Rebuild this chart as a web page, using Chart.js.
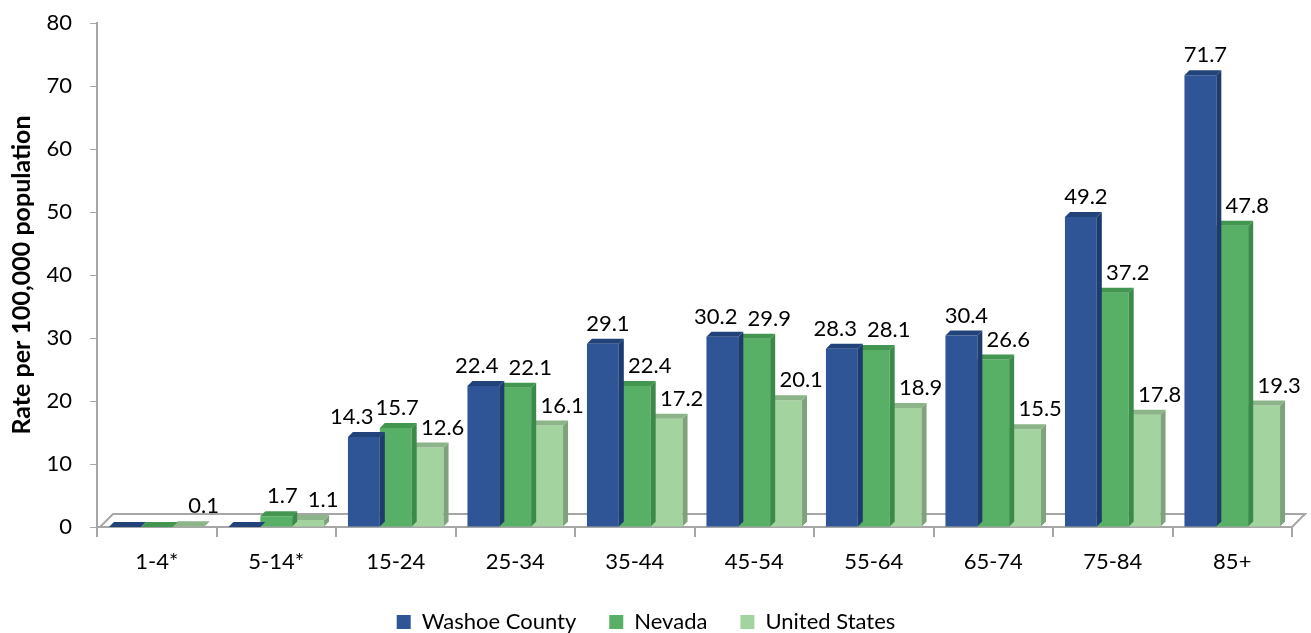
<!DOCTYPE html>
<html>
<head>
<meta charset="utf-8">
<script src="https://cdn.jsdelivr.net/npm/chart.js@4.4.0/dist/chart.umd.min.js"></script>
<style>
  body { margin: 0; background: #fff; }
  #wrap { width: 1311px; height: 633px; }
</style>
</head>
<body>
<div id="wrap"><canvas id="rateChart"></canvas></div>
<script>
// values
const ageGroups = ['1-4*', '5-14*', '15-24', '25-34', '35-44', '45-54', '55-64', '65-74', '75-84', '85+'];
const washoeCounty = [0, 0, 14.3, 22.4, 29.1, 30.2, 28.3, 30.4, 49.2, 71.7];
const nevada = [0, 1.7, 15.7, 22.1, 22.4, 29.9, 28.1, 26.6, 37.2, 47.8];
const unitedStates = [0.1, 1.1, 12.6, 16.1, 17.2, 20.1, 18.9, 15.5, 17.8, 19.3];
const seriesNames = ['Washoe County', 'Nevada', 'United States'];

const frontColors = ['#2F5597', '#57B066', '#A3D39F'];
const sideColors = ['#1E3B6E', '#3B8A49', '#7FA27C'];
const topColors = ['#22427A', '#43964F', '#8CB489'];
const labelShift = [5, 15, 15];   // Excel puts the labels a bit right of the bar
const DEPTH = 5;    // 3d depth of a bar
const FLOOR = 13;   // 3d depth of the floor
const FONT = 'Lato, "Open Sans", sans-serif';

// floor + 3d faces of bars + value labels
const bar3d = {
  id: 'bar3d',
  beforeDatasetsDraw(chart) {
    const { ctx, chartArea: a } = chart;
    ctx.save();
    ctx.beginPath();
    ctx.moveTo(a.left + 3, a.bottom);
    ctx.lineTo(a.right, a.bottom);
    ctx.lineTo(a.right + FLOOR, a.bottom - FLOOR);
    ctx.lineTo(a.left + 3 + FLOOR, a.bottom - FLOOR);
    ctx.closePath();
    ctx.fillStyle = '#fff';
    ctx.fill();
    ctx.strokeStyle = '#A6A6A6';
    ctx.lineWidth = 2;
    ctx.stroke();
    ctx.restore();
  },
  afterDatasetDraw(chart, args) {
    const ctx = chart.ctx;
    const i = args.index;
    ctx.save();
    args.meta.data.forEach(bar => {
      const { x, y, base, width } = bar.getProps(['x', 'y', 'base', 'width'], true);
      const l = x - width / 2, r = x + width / 2;
      // right side
      ctx.fillStyle = sideColors[i];
      ctx.beginPath();
      ctx.moveTo(r, y);
      ctx.lineTo(r + DEPTH, y - DEPTH);
      ctx.lineTo(r + DEPTH, base - DEPTH);
      ctx.lineTo(r, base);
      ctx.closePath();
      ctx.fill();
      // top
      ctx.fillStyle = topColors[i];
      ctx.beginPath();
      ctx.moveTo(l, y);
      ctx.lineTo(l + DEPTH, y - DEPTH);
      ctx.lineTo(r + DEPTH, y - DEPTH);
      ctx.lineTo(r, y);
      ctx.closePath();
      ctx.fill();
    });
    ctx.restore();
  },
  afterDatasetsDraw(chart) {
    const ctx = chart.ctx;
    const sets = chart.data.datasets;
    ctx.save();
    ctx.font = '22px ' + FONT;
    ctx.fillStyle = '#000';
    ctx.textAlign = 'center';
    ctx.textBaseline = 'middle';
    ageGroups.forEach((g, j) => {
      const items = sets.map((ds, i) => {
        const v = ds.data[j];
        if (!v) return null;
        const bar = chart.getDatasetMeta(i).data[j];
        const text = v.toFixed(1);
        return { text, x: bar.x + labelShift[i], y: bar.y - 20, w: ctx.measureText(text).width };
      });
      // push labels left when they would run into the one on their right
      for (let i = items.length - 2; i >= 0; i--) {
        const a = items[i], b = items[i + 1];
        if (!a || !b) continue;
        const dy = Math.abs(a.y - b.y);
        if (dy >= 22) continue;
        const gap = (a.w + b.w) / 2 + (dy < 8 ? 10 : 2);
        if (b.x - a.x < gap) a.x = b.x - gap;
      }
      items.forEach(it => { if (it) ctx.fillText(it.text, it.x, it.y); });
    });
    ctx.restore();
  }
};

const ctx = document.getElementById('rateChart');
new Chart(ctx, {
  type: 'bar',
  data: {
    labels: ageGroups,
    datasets: [washoeCounty, nevada, unitedStates].map((d, i) => ({
      label: seriesNames[i],
      data: d,
      backgroundColor: frontColors[i],
      borderWidth: 0,
      categoryPercentage: 0.8,
      barPercentage: 1.0
    }))
  },
  options: {
    responsive: true,
    maintainAspectRatio: false,
    animation: false,
    layout: { padding: { top: 23, right: 19, left: 0, bottom: -10 } },
    plugins: {
      legend: {
        position: 'bottom',
        labels: {
          boxWidth: 14,
          boxHeight: 14,
          padding: 33,
          color: '#000',
          font: { family: FONT, size: 22 }
        }
      },
      tooltip: { enabled: false }
    },
    scales: {
      x: {
        grid: { drawOnChartArea: false, tickLength: 10, color: '#A6A6A6', lineWidth: 2 },
        border: { color: '#A6A6A6', width: 2 },
        ticks: { color: '#000', padding: 12, font: { family: FONT, size: 22 } },
        afterFit(scale) { scale.height = 51; }
      },
      y: {
        min: 0,
        max: 80,
        ticks: { stepSize: 10, color: '#000', padding: 18, font: { family: FONT, size: 22 } },
        grid: { drawOnChartArea: false, tickLength: 7, color: '#A6A6A6', lineWidth: 1 },
        border: { color: '#A6A6A6', width: 2 },
        title: {
          display: true,
          text: 'Rate per 100,000 population',
          color: '#000',
          padding: { top: 7, bottom: 0 },
          font: { family: FONT, size: 25, weight: 'bold' }
        },
        afterFit(scale) {
          scale.width = 97;
          // tick padding should not push the plot down
          scale.paddingTop = 0;
          scale.paddingBottom = 0;
        }
      }
    }
  },
  plugins: [bar3d]
});
</script>
</body>
</html>
